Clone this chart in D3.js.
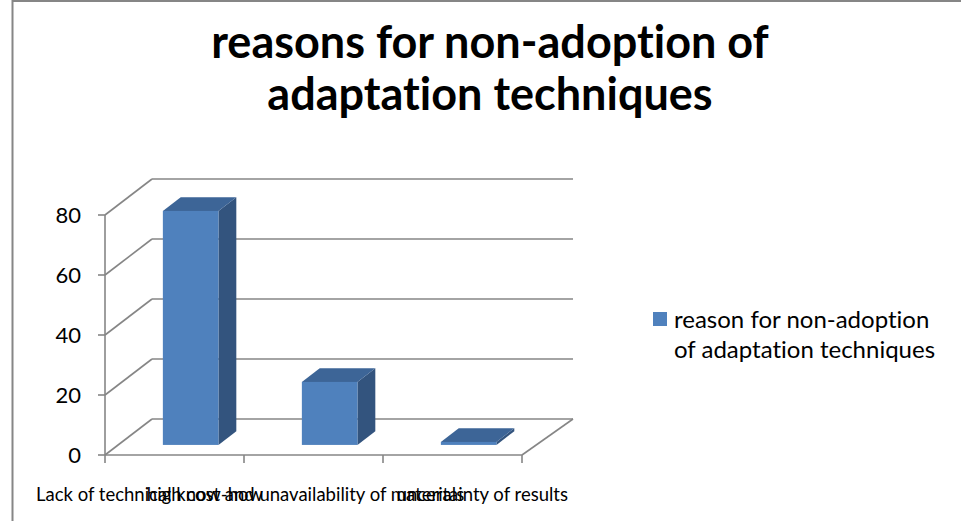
<!DOCTYPE html>
<html>
<head>
<meta charset="utf-8">
<script src="https://cdn.jsdelivr.net/npm/d3@7"></script>
<style>
  html, body { margin: 0; padding: 0; background: #ffffff; }
  svg { display: block; }
  text { font-family: Lato, "Open Sans", sans-serif; font-variant-ligatures: none; }
</style>
</head>
<body>
<div id="chart"></div>
<script>
// ---- data ----
const categories = ["Lack of technical know-how", "high cost and unavailability of materials", "uncertainty of results"];
const values = [78, 21, 1];
const seriesName = "reason for non-adoption of adaptation techniques";
const yTicks = [0, 20, 40, 60, 80];
const titleLines = ["reasons for non-adoption of", "adaptation techniques"];
const legendLines = ["reason for non-adoption", "of adaptation techniques"];

// ---- layout ----
const W = 961, H = 521;
const x0 = 105, x1 = 522;          // front floor edge
const depth = { dx: 47, dy: -36 };  // 3D depth vector
const f0 = 0.28, f1 = 0.66;         // bar depth range
const gridColor = "#868686";
const frontCol = "#4F81BD", sideCol = "#33547E", topCol = "#3D6597";

const svg = d3.select("#chart").append("svg").attr("width", W).attr("height", H);
svg.append("rect").attr("width", W).attr("height", H).attr("fill", "#fff");

// border of chart area
svg.append("line").attr("x1", 12.5).attr("x2", 12.5).attr("y1", 0).attr("y2", H)
  .attr("stroke", gridColor).attr("stroke-width", 2);
svg.append("line").attr("x1", 12).attr("x2", W).attr("y1", 1).attr("y2", 1)
  .attr("stroke", gridColor).attr("stroke-width", 2);

// title
svg.append("text").attr("x", 490).attr("text-anchor", "middle")
  .attr("font-weight", "bold").attr("font-size", 45).attr("fill", "#000")
  .selectAll("tspan").data(titleLines).join("tspan")
  .attr("x", 490).attr("y", (d, i) => 58 + i * 52).text(d => d);

const x = d3.scaleBand().domain(categories).range([x0, x1]).padding(0);
const y = d3.scaleLinear().domain([0, 80]).range([455, 215]);

const g = svg.append("g");

// back wall gridlines
g.selectAll("line.back").data(yTicks).join("line").attr("class", "back")
  .attr("x1", x0 + depth.dx).attr("x2", x1 + depth.dx + 4)
  .attr("y1", d => y(d) + depth.dy).attr("y2", d => y(d) + depth.dy)
  .attr("stroke", gridColor).attr("stroke-width", 1.6);
// side wall diagonals
g.selectAll("line.side").data(yTicks).join("line").attr("class", "side")
  .attr("x1", x0).attr("x2", x0 + depth.dx)
  .attr("y1", d => y(d)).attr("y2", d => y(d) + depth.dy)
  .attr("stroke", gridColor).attr("stroke-width", 1.6);
// floor right edge
g.append("line").attr("x1", x1).attr("y1", y(0))
  .attr("x2", x1 + depth.dx + 4).attr("y2", y(0) + depth.dy)
  .attr("stroke", gridColor).attr("stroke-width", 1.6);
// front floor edge (x axis)
g.append("line").attr("x1", x0).attr("x2", x1).attr("y1", y(0)).attr("y2", y(0))
  .attr("stroke", gridColor).attr("stroke-width", 1.6);
// y axis
g.append("line").attr("x1", x0).attr("x2", x0).attr("y1", y(0)).attr("y2", y(80))
  .attr("stroke", gridColor).attr("stroke-width", 1.6);
g.selectAll("line.ytick").data(yTicks).join("line").attr("class", "ytick")
  .attr("x1", x0 - 7).attr("x2", x0).attr("y1", d => y(d)).attr("y2", d => y(d))
  .attr("stroke", gridColor).attr("stroke-width", 1.6);
g.selectAll("text.ylab").data(yTicks).join("text").attr("class", "ylab")
  .attr("x", 81).attr("y", d => y(d) + 8).attr("text-anchor", "end")
  .attr("font-size", 22).attr("fill", "#000").text(d => d);
// x ticks at category boundaries
const bounds = categories.map(c => x(c)).concat([x1]);
g.selectAll("line.xtick").data(bounds).join("line").attr("class", "xtick")
  .attr("x1", d => d).attr("x2", d => d).attr("y1", y(0)).attr("y2", y(0) + 8)
  .attr("stroke", gridColor).attr("stroke-width", 1.6);

// bars
const barW = x.bandwidth() * 0.4;
const bars = g.selectAll("g.bar").data(categories.map((c, i) => ({ c, v: values[i] }))).join("g").attr("class", "bar");
function pts(arr) { return arr.map(p => p.join(",")).join(" "); }
bars.each(function (d) {
  const bx = x(d.c) + (x.bandwidth() - barW) / 2 + 3;
  const yv = y(d.v), yb = y(0);
  const ax = bx + f0 * depth.dx, ay = f0 * depth.dy;
  const bx2 = bx + f1 * depth.dx, by = f1 * depth.dy;
  const sel = d3.select(this);
  sel.append("polygon").attr("fill", sideCol).attr("points", pts([
    [ax + barW, yv + ay], [bx2 + barW, yv + by], [bx2 + barW, yb + by], [ax + barW, yb + ay]]));
  sel.append("polygon").attr("fill", topCol).attr("points", pts([
    [ax, yv + ay], [ax + barW, yv + ay], [bx2 + barW, yv + by], [bx2, yv + by]]));
  sel.append("rect").attr("fill", frontCol)
    .attr("x", ax).attr("y", yv + ay).attr("width", barW).attr("height", Math.max(1, yb - yv));
});

// category labels (overlapping, as in the original)
const labelPos = [
  { x: x0 - 69, anchor: "start" },
  { x: x(categories[1]) + x.bandwidth() / 2 - 8, anchor: "middle" },
  { x: x1 + 46, anchor: "end" }
];
g.selectAll("text.xlab").data(categories).join("text").attr("class", "xlab")
  .attr("x", (d, i) => labelPos[i].x).attr("y", 501)
  .attr("text-anchor", (d, i) => labelPos[i].anchor)
  .attr("font-size", 18.5).attr("fill", "#000").text(d => d);

// legend
const lg = svg.append("g");
lg.append("rect").attr("x", 653).attr("y", 312).attr("width", 14).attr("height", 14).attr("fill", frontCol);
lg.append("text").attr("font-size", 24).attr("fill", "#000")
  .selectAll("tspan").data(legendLines).join("tspan")
  .attr("x", 674).attr("y", (d, i) => 328 + i * 30).text(d => d);
</script>
</body>
</html>
